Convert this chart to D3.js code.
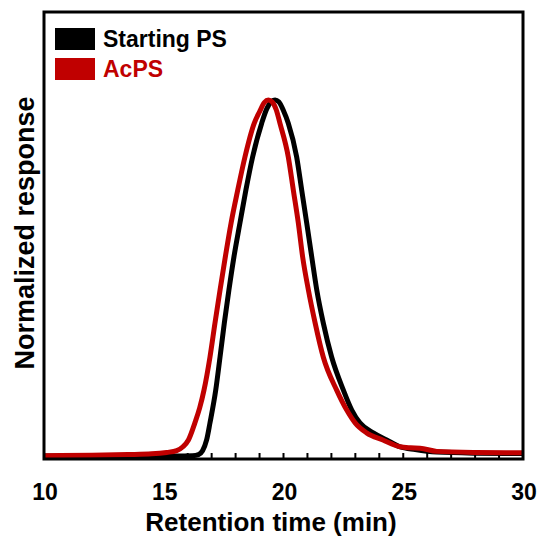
<!DOCTYPE html>
<html>
<head>
<meta charset="utf-8">
<script src="https://cdn.jsdelivr.net/npm/d3@7"></script>
<style>
  body { margin: 0; background: white; }
  svg { font-family: "Liberation Sans", Arial, sans-serif; font-weight: bold; }
</style>
</head>
<body>
<script>
// Starting PS trace (retention time in min, normalized response)
const timeStart = [10, 12, 14, 15.5, 16.2, 16.45, 16.62, 16.79, 16.93, 17.17, 17.35, 17.53, 17.72, 17.93, 18.18, 18.43, 18.71, 19.09, 19.3, 19.5, 19.65, 19.8, 20.0, 20.2, 20.55, 20.76, 20.97, 21.18, 21.39, 21.66, 22.01, 22.5, 22.85, 23.19, 23.75, 24.31, 24.86, 25.5, 26.4, 28, 30];
const respStart = [0, 0, 0, 0, 0.001, 0.004, 0.015, 0.045, 0.093, 0.185, 0.278, 0.374, 0.466, 0.559, 0.654, 0.747, 0.84, 0.935, 0.975, 0.996, 1.0, 0.995, 0.97, 0.935, 0.84, 0.747, 0.654, 0.559, 0.466, 0.374, 0.278, 0.185, 0.129, 0.093, 0.065, 0.045, 0.026, 0.018, 0.011, 0.008, 0.007];

// AcPS trace
const timeAc = [10, 12, 13.5, 14.5, 15.12, 15.54, 15.8, 16.03, 16.3, 16.5, 16.68, 16.93, 17.14, 17.35, 17.57, 17.81, 18.09, 18.39, 18.78, 19.0, 19.2, 19.37, 19.52, 19.7, 19.85, 20.2, 20.41, 20.62, 20.8, 21.04, 21.32, 21.66, 22.22, 22.64, 22.99, 23.47, 24.15, 24.86, 25.3, 25.7, 26.4, 28, 30];
const respAc = [0.001, 0.002, 0.004, 0.006, 0.01, 0.015, 0.026, 0.045, 0.093, 0.135, 0.185, 0.278, 0.374, 0.466, 0.559, 0.654, 0.747, 0.84, 0.935, 0.967, 0.993, 1.0, 0.995, 0.972, 0.935, 0.84, 0.747, 0.654, 0.559, 0.466, 0.374, 0.278, 0.185, 0.129, 0.093, 0.065, 0.045, 0.026, 0.023, 0.022, 0.013, 0.010, 0.009];

const xTicks = [10, 15, 20, 25, 30];
const seriesNames = ['Starting PS', 'AcPS'];
const seriesColors = ['#000000', '#c00000'];

const width = 540, height = 539;
const box = { left: 44, top: 12, right: 523, bottom: 459 };

const svg = d3.select('body').append('svg')
    .attr('width', width)
    .attr('height', height);

const x = d3.scaleLinear().domain([10, 30]).range([box.left, box.right]);
const y = d3.scaleLinear().domain([0, 1]).range([456, 100]);

// minor ticks every minute, pointing inward
svg.append('g')
    .selectAll('line')
    .data(d3.range(11, 30))
    .enter()
    .append('line')
    .attr('x1', d => x(d))
    .attr('x2', d => x(d))
    .attr('y1', box.bottom)
    .attr('y2', box.bottom - 6)
    .attr('stroke', 'black')
    .attr('stroke-width', 2);

const line = d3.line()
    .x(d => x(d[0]))
    .y(d => y(d[1]))
    .curve(d3.curveMonotoneX);

const series = [
  d3.zip(timeStart, respStart),
  d3.zip(timeAc, respAc)
];

svg.selectAll('path.trace')
    .data(series)
    .enter()
    .append('path')
    .attr('class', 'trace')
    .attr('d', line)
    .attr('fill', 'none')
    .attr('stroke', (d, i) => seriesColors[i])
    .attr('stroke-width', 5)
    .attr('stroke-linejoin', 'round');

// frame
svg.append('rect')
    .attr('x', box.left)
    .attr('y', box.top)
    .attr('width', box.right - box.left)
    .attr('height', box.bottom - box.top)
    .attr('fill', 'none')
    .attr('stroke', 'black')
    .attr('stroke-width', 3);

// tick labels
svg.append('g')
    .selectAll('text')
    .data(xTicks)
    .enter()
    .append('text')
    .attr('x', d => x(d) + 1)
    .attr('y', 500)
    .attr('text-anchor', 'middle')
    .style('font-size', '23px')
    .text(d => d);

svg.append('text')
    .attr('x', 271)
    .attr('y', 531)
    .attr('text-anchor', 'middle')
    .style('font-size', '26px')
    .text('Retention time (min)');

svg.append('text')
    .attr('transform', 'translate(34, 233) rotate(-90)')
    .attr('text-anchor', 'middle')
    .style('font-size', '27px')
    .text('Normalized response');

// legend
const legend = svg.append('g').attr('id', 'legend');
seriesNames.forEach((name, i) => {
  legend.append('rect')
      .attr('x', 55)
      .attr('y', 28 + i * 30)
      .attr('width', 40)
      .attr('height', 22)
      .attr('fill', seriesColors[i]);
  legend.append('text')
      .attr('x', 103)
      .attr('y', 47 + i * 30)
      .style('font-size', '23px')
      .style('fill', seriesColors[i])
      .text(name);
});
</script>
</body>
</html>
